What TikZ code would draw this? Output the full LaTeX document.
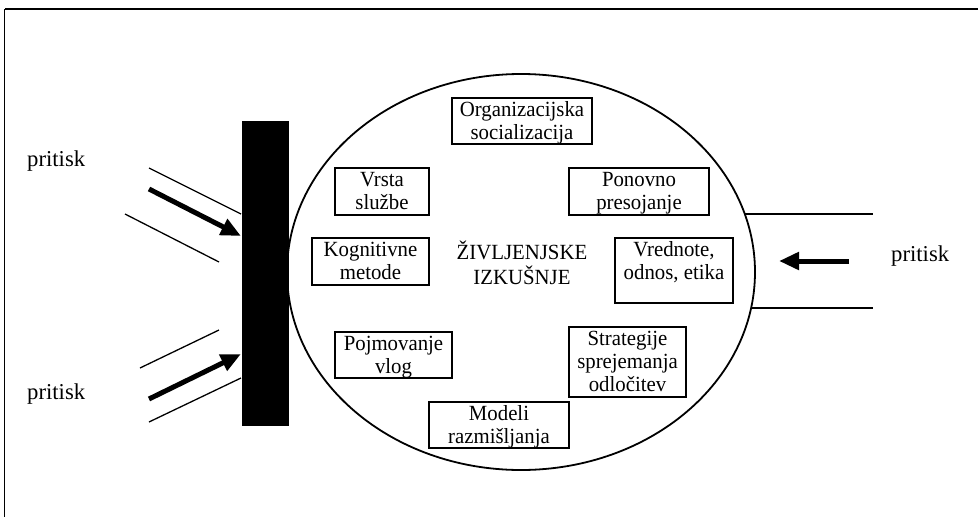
\documentclass[tikz,border=0pt]{standalone}
\usepackage{fontspec}
\usepackage{graphicx}
\setmainfont{Liberation Serif}
\usetikzlibrary{arrows.meta,shapes.geometric}

\newcommand\lblfont{\fontsize{20.8}{22.5}\selectfont}
\newcommand\presfont{\fontsize{22.7}{26}\selectfont}
% centred lines, slightly stretched in height, baseline on the first line
\newcommand\lines[1]{\scalebox{1}[1.04]{\begin{tabular}[t]{@{}c@{}}#1\end{tabular}}}

\tikzset{
  frameline/.style={line width=1.2pt},
  itembox/.style={draw, line width=1.6pt, rectangle, inner sep=0pt},
  itemtext/.style={anchor=base, inner sep=0pt, font=\lblfont},
  thinline/.style={line width=1.3pt},
  pressarrow/.style={line width=5pt, -{Triangle[length=20pt,width=17pt]}},
  presslabel/.style={anchor=base west, inner sep=0pt, font=\presfont},
}

\begin{document}
\begin{tikzpicture}[x=1pt,y=-1pt]
\useasboundingbox (0,0) rectangle (978,517);

% outer frame (top and left edges)
\coordinate (fTL) at (4.5,9);
\coordinate (fTR) at (978,9);
\coordinate (fBL) at (4.5,517);
\draw[line width=2pt] (fTR) -- (fTL);
\draw[frameline] (fTL) -- (fBL);

% barrier
\node[fill=black, inner sep=0pt, minimum width=47pt, minimum height=305pt] (bar) at (265.5,273.5) {};

% life-experience ellipse
\node[draw, ellipse, line width=1.8pt, inner sep=0pt,
      minimum width=468pt, minimum height=396pt] (ell) at (521,272) {};

% boxes inside the ellipse
\node[itembox, minimum width=140pt, minimum height=46pt] (org) at (522,121) {};
\node[itemtext] at ([yshift=-18.9pt]org.north) {\lines{Organizacijska\\socializacija}};

\node[itembox, minimum width=94pt, minimum height=47pt] (vrsta) at (382,191.5) {};
\node[itemtext] at ([yshift=-18.9pt]vrsta.north) {\lines{Vrsta\\službe}};

\node[itembox, minimum width=140pt, minimum height=47pt] (pon) at (639,191.5) {};
\node[itemtext] at ([yshift=-18.9pt]pon.north) {\lines{Ponovno\\presojanje}};

\node[itembox, minimum width=117pt, minimum height=47pt] (kogn) at (370.5,261.5) {};
\node[itemtext] at ([yshift=-18.9pt]kogn.north) {\lines{Kognitivne\\metode}};

\node[itembox, minimum width=118pt, minimum height=65pt] (vred) at (674,270.5) {};
\node[itemtext] at ([yshift=-18.9pt]vred.north) {\lines{Vrednote,\\odnos, etika}};

\node[itembox, minimum width=117pt, minimum height=46pt] (pojm) at (393.5,355) {};
\node[itemtext] at ([yshift=-18.9pt]pojm.north) {\lines{Pojmovanje\\vlog}};

\node[itembox, minimum width=117pt, minimum height=70pt] (strat) at (627.5,362) {};
\node[itemtext] at ([yshift=-18.9pt]strat.north) {\lines{Strategije\\sprejemanja\\odločitev}};

\node[itembox, minimum width=140pt, minimum height=46pt] (mod) at (499,425) {};
\node[itemtext] at ([yshift=-18.9pt]mod.north) {\lines{Modeli\\razmišljanja}};

% centre title
\node[itemtext] (title) at (522,259) {\lines{ŽIVLJENJSKE\\IZKUŠNJE}};

% upper-left pressure
\node[presslabel] (pL1) at (27,166) {pritisk};
\coordinate (a1s) at (149,168);  \coordinate (a1e) at (241,214);
\coordinate (b1s) at (149,189);  \coordinate (b1e) at (241,236);
\coordinate (c1s) at (125,214);  \coordinate (c1e) at (219,262);
\draw[thinline] (a1s) -- (a1e);
\draw[pressarrow] (b1s) -- (b1e);
\draw[thinline] (c1s) -- (c1e);

% lower-left pressure
\node[presslabel] (pL2) at (27,399) {pritisk};
\coordinate (a2s) at (140,368);  \coordinate (a2e) at (219,330);
\coordinate (b2s) at (149,399);  \coordinate (b2e) at (241,354);
\coordinate (c2s) at (149,422);  \coordinate (c2e) at (241,378);
\draw[thinline] (a2s) -- (a2e);
\draw[pressarrow] (b2s) -- (b2e);
\draw[thinline] (c2s) -- (c2e);

% right pressure
\node[presslabel] (pR) at (891,261) {pritisk};
\coordinate (r1s) at (744.7,214); \coordinate (r1e) at (873,214);
\coordinate (r2s) at (751,308);   \coordinate (r2e) at (873,308);
\coordinate (ras) at (849,261);   \coordinate (rae) at (779,261);
\draw[thinline] (r1s) -- (r1e);
\draw[thinline] (r2s) -- (r2e);
\draw[pressarrow] (ras) -- (rae);
\end{tikzpicture}
\end{document}
